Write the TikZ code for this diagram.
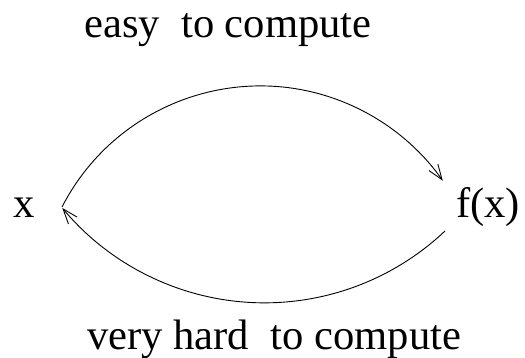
\documentclass[tikz,border=0pt]{standalone}
\usepackage{fontspec}
\setmainfont{Liberation Serif}
\usetikzlibrary{arrows.meta}
\tikzset{
  lbl/.style={inner sep=0pt, anchor=base west, font=\fontsize{42.6}{48}\selectfont},
  conn/.style={line width=0.9pt, -{Straight Barb[length=15pt,width=11pt,line width=0.9pt]}}
}
\begin{document}
\begin{tikzpicture}[x=1pt,y=-1pt]
\useasboundingbox (0,0) rectangle (525,358);
\node[lbl] (easy) at (84,38) {easy\ \ to compute};
\node[lbl] (hard) at (87,349) {very hard\ \ to compute};
\node[lbl] (x) at (13,218) {x};
\node[lbl] (fx) at (456,218) {f(x)};
\coordinate (xout) at (62,207);
\coordinate (fxin) at (443,181);
\coordinate (fxout) at (445,231);
\coordinate (xin) at (62,208);
\draw[conn] (xout) arc[start angle=-152.8, end angle=-35.1, radius=223];
\draw[conn] (fxout) arc[start angle=46.6, end angle=140.3, radius=262.8];
\end{tikzpicture}
\end{document}
